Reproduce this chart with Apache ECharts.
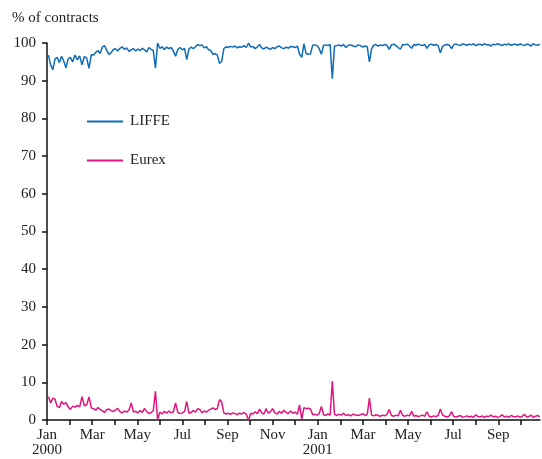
<!DOCTYPE html>
<html><head><meta charset="utf-8">
<script src="https://cdn.jsdelivr.net/npm/echarts@6/dist/echarts.min.js"></script>
<style>html,body{margin:0;padding:0;background:#fff}#c{width:542px;height:459px}</style>
</head><body><div id="c"></div>
<script>
// Samples every 3 calendar days starting 3 Jan 2000
const startDate = [2000, 0, 3];
const stepDays = 3;
const monthNames = ['Jan','Feb','Mar','Apr','May','Jun','Jul','Aug','Sep','Oct','Nov','Dec'];
const yearLabels = {0: '2000', 12: '2001'};
const seriesNames = ['LIFFE', 'Eurex'];

const liffe = [
96.8,94.2,92.9,95.8,96.2,94.8,96.5,95.2,93.4,95.8,
96.2,95.0,96.8,95.5,96.6,94.2,96.4,96.0,93.3,96.9,
96.8,97.5,98.0,97.2,98.9,99.3,98.1,97.0,97.4,98.2,
98.5,97.9,98.6,99.0,98.3,98.7,97.8,98.2,98.5,97.9,
98.4,98.0,98.6,98.2,97.6,98.8,98.3,98.0,93.3,100.0,
98.6,99.0,98.3,98.9,98.5,98.8,97.9,96.5,98.3,98.8,
98.2,98.6,95.6,98.4,98.9,98.5,99.0,99.6,99.3,99.5,
98.7,99.0,98.2,98.0,97.0,97.2,96.8,94.6,95.1,98.5,
99.0,98.8,99.1,98.9,99.2,98.7,99.0,98.9,99.3,98.8,
100.0,98.9,99.1,98.5,99.0,99.6,98.7,98.4,98.9,98.6,
98.3,98.8,98.5,99.0,99.2,98.7,98.5,98.9,98.6,99.1,
99.0,98.8,99.2,97.0,96.2,99.8,97.2,97.0,97.1,99.4,
99.5,99.3,98.5,97.0,99.4,99.5,99.3,99.6,90.5,99.2,
99.3,99.5,99.2,99.6,98.8,99.4,99.5,99.2,99.0,99.5,
99.3,98.9,99.2,99.0,95.0,98.5,99.4,99.6,99.2,99.5,
99.3,99.6,99.4,98.3,99.5,99.7,99.3,98.8,98.4,99.6,
99.5,99.7,99.2,98.6,99.6,99.4,99.7,99.5,99.3,99.6,
98.6,99.5,99.7,99.4,99.6,99.3,97.4,99.1,99.5,99.6,
99.4,98.5,99.6,99.7,99.5,99.3,99.8,99.6,99.4,99.7,
99.5,99.8,99.3,99.6,99.7,99.4,99.8,99.5,99.6,99.2,
99.7,99.5,99.8,99.6,99.3,99.7,99.5,99.8,99.4,99.6,
99.7,99.4,99.8,99.5,99.3,99.7,99.6,99.2,99.8,99.5,99.4,99.7
];
const eurex = [
6.2,4.5,5.8,5.5,3.6,3.3,4.9,4.2,4.6,3.5,
2.8,3.7,3.4,3.9,3.5,6.2,3.8,4.0,6.1,3.2,
3.0,2.6,3.3,2.8,2.4,2.0,2.7,2.9,2.5,2.2,
2.6,3.1,2.2,1.9,2.4,2.1,2.6,4.5,2.1,2.3,
1.9,2.5,2.0,3.1,2.2,1.7,2.0,2.4,7.6,0.0,
2.1,1.6,2.3,1.8,2.4,1.9,2.2,4.5,2.0,1.7,
1.9,2.3,4.9,1.8,2.0,2.5,2.1,3.0,2.8,1.9,
2.4,2.1,2.6,2.9,3.2,2.8,3.0,5.4,4.8,1.9,
1.6,1.8,1.5,1.9,1.7,1.4,1.8,1.6,2.0,1.5,
0.0,1.8,1.6,2.2,1.7,2.9,1.9,1.6,3.0,1.8,
2.2,3.0,1.9,1.6,2.3,1.8,2.6,2.0,1.7,2.4,
1.8,2.1,1.5,4.0,0.2,3.3,3.0,3.1,2.9,1.4,
1.5,1.3,1.7,3.6,1.4,1.2,1.6,1.3,10.3,1.5,
1.2,1.5,1.3,1.8,1.2,1.4,1.1,1.6,1.3,1.2,
1.4,1.7,1.2,1.5,5.8,1.3,1.1,1.4,1.2,1.0,
1.3,1.1,1.5,2.8,1.2,1.0,1.3,1.1,2.6,1.2,
1.0,1.3,1.1,2.3,1.0,1.2,0.9,1.1,1.3,1.0,
2.2,1.0,0.8,1.1,0.9,1.2,2.9,1.3,1.0,0.8,
1.1,2.2,0.9,0.8,1.0,1.2,0.7,0.9,1.1,0.8,
1.0,0.7,1.4,0.9,0.8,1.1,0.7,1.0,0.9,1.3,
0.8,1.0,0.7,0.9,1.4,0.8,1.0,0.7,1.2,0.9,
0.8,1.1,0.7,1.0,1.5,0.8,0.9,1.3,0.7,1.0,1.2,0.8
];

// convert sample index -> fractional month index since Jan 2000
function monthPos(i){
  const d = new Date(Date.UTC(startDate[0], startDate[1], startDate[2] + i*stepDays));
  const y = d.getUTCFullYear(), m = d.getUTCMonth(), day = d.getUTCDate();
  const dim = new Date(Date.UTC(y, m+1, 0)).getUTCDate();
  return (y-2000)*12 + m + (day-1)/dim;
}
const toPairs = arr => arr.map((v,i)=>[monthPos(i), v]);

const FONT = 'Liberation Serif';
const chart = echarts.init(document.getElementById('c'), null, {renderer:'canvas'});
chart.setOption({
  animation:false,
  backgroundColor:'#fff',
  textStyle:{fontFamily:FONT},
  grid:{left:47, top:43, width:493, bottom:39, containLabel:false},
  graphic:[{type:'text', left:12, top:11, style:{text:'% of contracts', font:'15px "Liberation Serif"', fill:'#222'}}],
  legend:{
    orient:'vertical', left:82, top:109, itemGap:24, itemWidth:36, itemHeight:2,
    icon:'rect', textStyle:{fontFamily:FONT, fontSize:15, color:'#222', padding:[0,0,0,2]},
    data:seriesNames
  },
  xAxis:{
    type:'value', min:0, max:21.85, interval:1,
    axisLine:{show:true, onZero:false, lineStyle:{color:'#111', width:1.5}},
    axisTick:{show:true, length:5, lineStyle:{color:'#111', width:1.5}},
    splitLine:{show:false},
    axisLabel:{
      margin:8, color:'#222', fontFamily:FONT, fontSize:15, lineHeight:15,
      showMaxLabel:false,
      formatter:function(v){
        const m = Math.round(v);
        if (Math.abs(v-m)>1e-6 || m%2!==0) return '';
        let s = monthNames[m%12];
        if (yearLabels[m]) s += '\n' + yearLabels[m];
        return s;
      }
    }
  },
  yAxis:{
    type:'value', min:0, max:100, interval:10,
    axisLine:{show:true, lineStyle:{color:'#111', width:1.5}},
    axisTick:{show:true, length:5, lineStyle:{color:'#111', width:1.5}},
    splitLine:{show:false},
    axisLabel:{margin:11, color:'#222', fontFamily:FONT, fontSize:15}
  },
  series:[
    {name:seriesNames[0], type:'line', data:toPairs(liffe), showSymbol:false, symbol:'none',
     lineStyle:{color:'#0f6cb6', width:1.5}, itemStyle:{color:'#0f6cb6'}},
    {name:seriesNames[1], type:'line', data:toPairs(eurex), showSymbol:false, symbol:'none',
     lineStyle:{color:'#e2167f', width:1.5}, itemStyle:{color:'#e2167f'}}
  ]
});
</script></body></html>
